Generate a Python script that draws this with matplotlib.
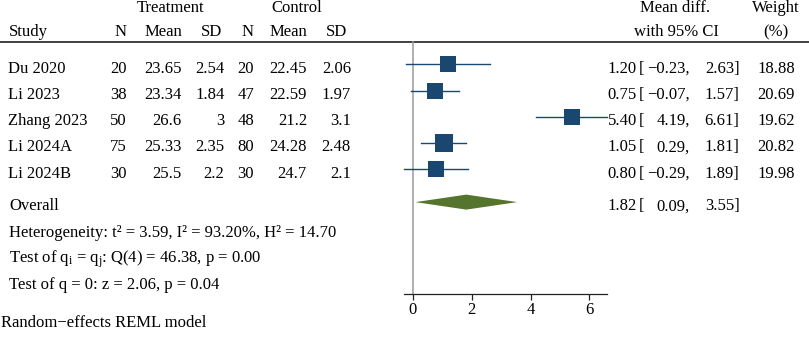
import matplotlib
matplotlib.use("Agg")
import matplotlib.pyplot as plt
from matplotlib.patches import Polygon


# dados dos estudos
studies = ["Du 2020", "Li 2023", "Zhang 2023", "Li 2024A", "Li 2024B"]
n_t = [20, 38, 50, 75, 30]
mean_t = [23.65, 23.34, 26.6, 25.33, 25.5]
sd_t = [2.54, 1.84, 3, 2.35, 2.2]
n_c = [20, 47, 48, 80, 30]
mean_c = [22.45, 22.59, 21.2, 24.28, 24.7]
sd_c = [2.06, 1.97, 3.1, 2.48, 2.1]
md = [1.20, 0.75, 5.40, 1.05, 0.80]
ci_lo = [-0.23, -0.07, 4.19, 0.29, -0.29]
ci_hi = [2.63, 1.57, 6.61, 1.81, 1.89]
weight = [18.88, 20.69, 19.62, 20.82, 19.98]

overall_md = 1.82
overall_lo = 0.09
overall_hi = 3.55

stats_lines = [
    "Heterogeneity: t\u00b2 = 3.59, I\u00b2 = 93.20%, H\u00b2 = 14.70",
    r"Test of q$_\mathrm{i}$ = q$_\mathrm{j}$: Q(4) = 46.38, p = 0.00",
    "Test of q = 0: z = 2.06, p = 0.04",
]
xticks = [0, 2, 4, 6]

NAVY = "#1a476f"
GREEN = "#55752f"
FS = 12

plt.rcParams["font.family"] = ["Liberation Serif", "DejaVu Serif"]
plt.rcParams["mathtext.fontset"] = "custom"
plt.rcParams["mathtext.rm"] = "Liberation Serif"
plt.rcParams["mathtext.it"] = "Liberation Serif:italic"

W, H = 809, 344
fig = plt.figure(figsize=(W / 100, H / 100), dpi=100)

# eixo "tela" em pixels para o texto
tela = fig.add_axes([0, 0, 1, 1])
tela.set_xlim(0, W)
tela.set_ylim(H, 0)
tela.axis("off")

ROW0, STEP = 64.3, 26.25


def base(r):
    # linha de base do texto para a linha r
    return ROW0 + STEP * r + 8.3


def num(v):
    return f"{v:.2f}".replace("-", "\u2212")


def txt(x, y, s, ha="left"):
    tela.text(x, y, s, ha=ha, va="baseline", fontsize=FS, color="black")


def estimativa(y, est, lo, hi):
    txt(637, y, num(est), "right")
    txt(638.5, y, "[")
    txt(690, y, num(lo) + ",", "right")
    txt(739.5, y, num(hi) + "]", "right")


# cabeçalho
txt(170.5, 12.3, "Treatment", "center")
txt(296.5, 12.3, "Control", "center")
txt(675.5, 12.3, "Mean diff.", "center")
txt(776, 12.3, "Weight", "center")
txt(9, 36, "Study")
for x, s in zip([127, 182, 222, 254, 307, 347], ["N", "Mean", "SD", "N", "Mean", "SD"]):
    txt(x, 36, s, "right")
txt(676.5, 36, "with 95% CI", "center")
txt(776, 36, "(%)", "center")
tela.axhline(41.8, color="#333333", lw=1.3)

# linhas dos estudos
for i, nome in enumerate(studies):
    y = base(i)
    txt(8, y, nome)
    cols = [n_t[i], mean_t[i], sd_t[i], n_c[i], mean_c[i], sd_c[i]]
    for x, v in zip([127, 182, 224.5, 254, 307, 351], cols):
        txt(x, y, f"{v:g}", "right")
    estimativa(y, md[i], ci_lo[i], ci_hi[i])
    txt(795, y, f"{weight[i]:.2f}", "right")

# overall e estatísticas
y_ov = base(5.25)
txt(9, y_ov, "Overall")
estimativa(y_ov, overall_md, overall_lo, overall_hi)
for k, s in enumerate(stats_lines):
    txt(9, base(6.25 + k), s)

txt(1, 327, "Random\u2212effects REML model")

# eixo do gráfico de floresta
x0, x1 = -0.29, 6.61
px0 = 412.7 + x0 * 29.45
px1 = 412.7 + x1 * 29.45
ax = fig.add_axes([px0 / W, (H - 294) / H, (px1 - px0) / W, 294 / H])
ax.set_xlim(x0, x1)
ax.set_ylim((294 - ROW0) / STEP, -ROW0 / STEP)
ax.patch.set_alpha(0)
for lado in ["top", "right", "left"]:
    ax.spines[lado].set_visible(False)
ax.spines["bottom"].set_color("#222222")
ax.spines["bottom"].set_linewidth(0.9)
ax.set_yticks([])
ax.set_xticks(xticks)
ax.set_xticklabels([str(t) for t in xticks], fontsize=FS)
ax.tick_params(axis="x", direction="out", length=4, width=0.9, color="#222222", pad=2)

# linha de nulidade
ax.plot([0, 0], [(41.8 - ROW0) / STEP, (294 - ROW0) / STEP], color="#9a9a9a", lw=1.1,
        clip_on=False, zorder=1)

for i in range(len(studies)):
    ax.plot([ci_lo[i], ci_hi[i]], [i, i], color=NAVY, lw=1.0, zorder=2, clip_on=False)
    ax.plot(md[i], i, marker="s", color=NAVY, markeredgewidth=0,
            markersize=2.69 * weight[i] ** 0.5, zorder=3, clip_on=False)

h = 7.5 / STEP
losango = Polygon([(overall_lo, 5.25), (overall_md, 5.25 - h), (overall_hi, 5.25),
                   (overall_md, 5.25 + h)], closed=True, facecolor=GREEN, edgecolor="none",
                  zorder=3)
ax.add_patch(losango)

fig.savefig("out.png", dpi=100)
